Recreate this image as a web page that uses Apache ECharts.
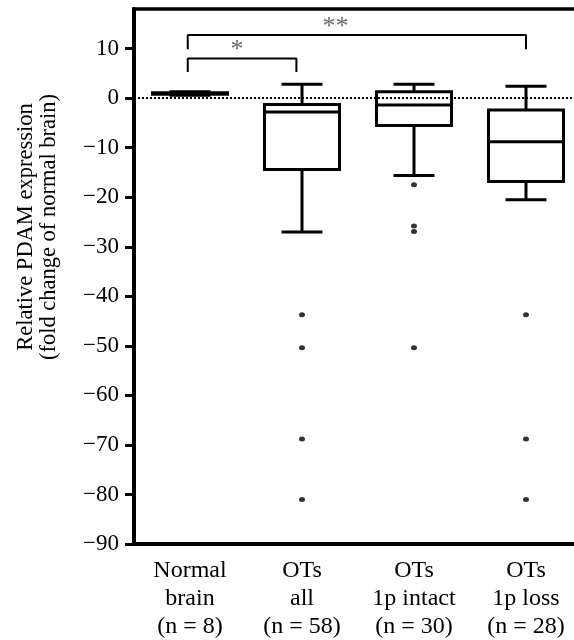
<!DOCTYPE html>
<html lang="en">

<head>
  <meta charset="UTF-8">
  <title>PDAM expression</title>
  <style>
    body,
    html {
      margin: 0;
      padding: 0;
      background: #fff;
    }

    #chart {
      width: 574px;
      height: 640px;
    }
  </style>
</head>

<body>
  <div id="chart"></div>
  <script src="https://cdn.jsdelivr.net/npm/echarts@6/dist/echarts.min.js"></script>
  <script>
    var categories = ['Normal\nbrain\n(n = 8)', 'OTs\nall\n(n = 58)', 'OTs\n1p intact\n(n = 30)', 'OTs\n1p loss\n(n = 28)'];
    var boxMin = [0.6, -27.0, -15.6, -20.5];
    var boxQ1 = [0.8, -14.4, -5.5, -16.8];
    var boxMedian = [0.95, -2.8, -1.4, -8.8];
    var boxQ3 = [1.1, -1.3, 1.3, -2.4];
    var boxMax = [1.3, 2.8, 2.8, 2.4];
    var outliers = [
      [],
      [-43.7, -50.4, -68.8, -81.0],
      [-17.5, -25.8, -26.9, -50.4],
      [-43.7, -68.8, -81.0]
    ];
    var yTicks = [-90, -80, -70, -60, -50, -40, -30, -20, -10, 0, 10];

    // significance brackets: x in category units, [left, right], y [foot, top]
    var bracketX = [[-0.02, 0.95], [-0.02, 3.0]];
    var bracketY = [[5.3, 8.0], [9.85, 12.75]];
    var starText = ['*', '**'];
    var starX = [0.42, 1.3];
    var starY = [9.6, 14.4];

    var serif = 'Liberation Serif';

    function renderBox(params, api) {
      var idx = api.value(0);
      var band = api.size([1, 0])[0];
      var half = band * 0.335;
      var cap = band * 0.183;
      var pMin = api.coord([idx, api.value(1)]);
      var pQ1 = api.coord([idx, api.value(2)]);
      var pMed = api.coord([idx, api.value(3)]);
      var pQ3 = api.coord([idx, api.value(4)]);
      var pMax = api.coord([idx, api.value(5)]);
      var x = pMed[0];
      var style = { stroke: '#000', lineWidth: 3, fill: null };
      return {
        type: 'group',
        children: [
          { type: 'line', shape: { x1: x, y1: pMax[1], x2: x, y2: pQ3[1] }, style: style },
          { type: 'line', shape: { x1: x - cap, y1: pMax[1], x2: x + cap, y2: pMax[1] }, style: style },
          { type: 'line', shape: { x1: x, y1: pQ1[1], x2: x, y2: pMin[1] }, style: style },
          { type: 'line', shape: { x1: x - cap, y1: pMin[1], x2: x + cap, y2: pMin[1] }, style: style },
          { type: 'rect', shape: { x: x - half, y: pQ3[1], width: half * 2, height: pQ1[1] - pQ3[1] }, style: style },
          { type: 'line', shape: { x1: x - half, y1: pMed[1], x2: x + half, y2: pMed[1] }, style: style }
        ]
      };
    }

    var boxData = categories.map(function (c, i) {
      return [i, boxMin[i], boxQ1[i], boxMedian[i], boxQ3[i], boxMax[i]];
    });

    var outlierData = [];
    outliers.forEach(function (list, i) {
      list.forEach(function (v) {
        outlierData.push([i, v]);
      });
    });

    var bracketSeries = bracketX.map(function (bx, i) {
      var by = bracketY[i];
      return {
        type: 'line',
        xAxisIndex: 1,
        symbol: 'none',
        silent: true,
        lineStyle: { color: '#000', width: 2 },
        data: [[bx[0], by[0]], [bx[0], by[1]], [bx[1], by[1]], [bx[1], by[0]]]
      };
    });

    // dotted zero line
    bracketSeries[0].markLine = {
      silent: true,
      symbol: ['none', 'none'],
      label: { show: false },
      lineStyle: { color: '#000', width: 2, type: [2, 2] },
      data: [{ yAxis: 0 }]
    };

    var myChart = echarts.init(document.getElementById('chart'));
    var option = {
      animation: false,
      backgroundColor: '#fff',
      grid: {
        left: 134,
        width: 448,
        top: 9,
        bottom: 96,
        outerBoundsMode: 'none',
        containLabel: false,
        show: true,
        borderColor: '#000',
        borderWidth: 3.5
      },
      graphic: [{
        type: 'text',
        x: 38,
        y: 227,
        rotation: Math.PI / 2,
        style: {
          text: 'Relative PDAM expression\n(fold change of normal brain)',
          fontSize: 22.5,
          fontFamily: serif,
          lineHeight: 23,
          align: 'center',
          verticalAlign: 'middle',
          fill: '#000'
        }
      }],
      xAxis: [{
        type: 'category',
        data: categories,
        axisLine: { onZero: false, lineStyle: { color: '#000', width: 4 } },
        axisTick: { alignWithLabel: true, length: 4, lineStyle: { color: '#000', width: 3 } },
        axisLabel: {
          interval: 0,
          color: '#000',
          fontFamily: serif,
          fontSize: 24,
          lineHeight: 28,
          margin: 13
        },
        splitLine: { show: false }
      }, {
        type: 'value',
        min: -0.5,
        max: 3.5,
        show: false
      }],
      yAxis: {
        type: 'value',
        min: -90,
        max: 18,
        interval: 10,
        splitLine: { show: false },
        axisLine: { show: true, onZero: false, lineStyle: { color: '#000', width: 4 } },
        axisTick: { show: true, length: 9, customValues: yTicks, lineStyle: { color: '#000', width: 3 } },
        axisLabel: {
          customValues: yTicks,
          color: '#000',
          fontFamily: serif,
          fontSize: 23,
          margin: 15,
          formatter: function (v) {
            return String(v).replace('-', '\u2212');
          }
        }
      },
      series: [{
        type: 'custom',
        renderItem: renderBox,
        encode: { x: 0, y: [1, 2, 3, 4, 5] },
        silent: true,
        data: boxData,
        z: 3
      }, {
        type: 'scatter',
        symbol: 'circle',
        symbolSize: [6, 5],
        itemStyle: { color: '#000' },
        silent: true,
        data: outlierData
      }, {
        type: 'scatter',
        xAxisIndex: 1,
        symbolSize: 0,
        silent: true,
        label: {
          show: true,
          position: 'inside',
          formatter: '{b}',
          color: '#444',
          fontFamily: serif,
          fontSize: 26
        },
        data: starText.map(function (t, i) {
          return { name: t, value: [starX[i], starY[i]] };
        })
      }].concat(bracketSeries)
    };
    myChart.setOption(option);
  </script>
</body>

</html>
